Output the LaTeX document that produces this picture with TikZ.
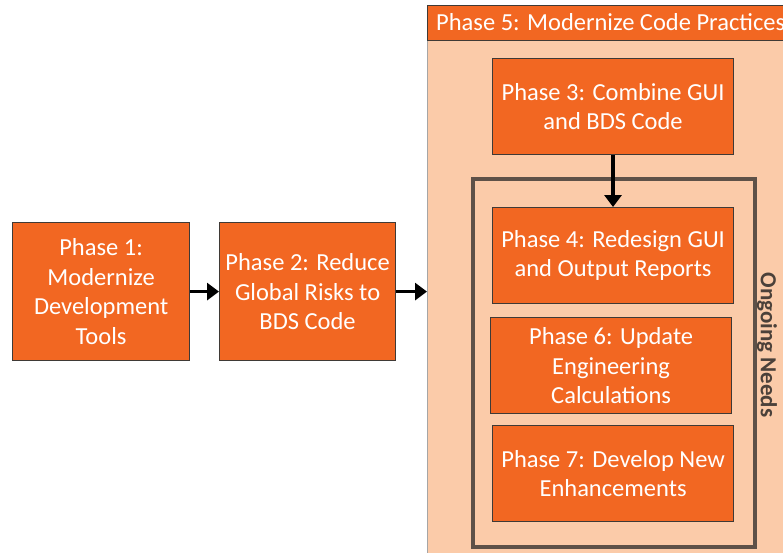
\documentclass[tikz,border=0pt]{standalone}
\usepackage{fontspec}
\setmainfont{Carlito}
\usetikzlibrary{arrows.meta}
\definecolor{orng}{HTML}{F26722}
\definecolor{peach}{HTML}{FBCBA9}
\definecolor{edge}{HTML}{3F3A36}
\definecolor{ongo}{HTML}{5E5148}
\tikzset{
  phasebox/.style={draw=edge, line width=1.2pt, fill=orng, text=white, align=center,
    font=\fontsize{24.5}{29.5}\selectfont, inner sep=0pt},
  arr/.style={-{Triangle[length=12pt,width=17pt]}, line width=3.5pt, black}
}
\begin{document}
\begin{tikzpicture}[x=1pt,y=-1pt]
\useasboundingbox (0,0) rectangle (783,552);
% Phase 5 container
\node[draw=gray!70, line width=0.8pt, fill=peach, minimum width=360pt, minimum height=550pt, anchor=north west, inner sep=0pt] (p5) at (427,5) {};
\node[draw=edge, line width=1.2pt, fill=orng, text=white, anchor=north west, minimum width=360pt, minimum height=35pt, inner sep=0pt] (p5t) at (427,5) {};
\node[text=white, font=\fontsize{24.5}{29.5}\selectfont, anchor=west, inner sep=0pt] (p5l) at (436,22.5) {Phase 5: Modernize Code Practices};
% Ongoing needs box
\node[draw=ongo, line width=4pt, minimum width=282pt, minimum height=368pt, anchor=north west, inner sep=0pt] (on) at (471,177) {};
\node[rotate=-90, text=ongo!80!black, font=\fontsize{23}{29}\selectfont\bfseries] (onl) at (767,345) {Ongoing Needs};
% Phases
\node[phasebox, minimum width=241pt, minimum height=96pt, anchor=north west] (p3) at (492,58) {Phase 3: Combine GUI\\and BDS Code};
\node[phasebox, minimum width=241pt, minimum height=96pt, anchor=north west] (p4) at (492,207) {Phase 4: Redesign GUI\\and Output Reports};
\node[phasebox, minimum width=241pt, minimum height=96pt, anchor=north west] (p6) at (490,317) {Phase 6: Update\\Engineering\\Calculations};
\node[phasebox, minimum width=241pt, minimum height=96pt, anchor=north west] (p7) at (492,425) {Phase 7: Develop New\\Enhancements};
\node[phasebox, minimum width=177pt, minimum height=138pt, anchor=north west] (p1) at (12,222) {Phase 1:\\Modernize\\Development\\Tools};
\node[phasebox, minimum width=176pt, minimum height=138pt, anchor=north west] (p2) at (219,222) {Phase 2: Reduce\\Global Risks to\\BDS Code};
% Arrows
\draw[arr] (p1.east) -- (p2.west);
\draw[arr] (p2.east) -- (p2.east -| p5.west);
\draw[arr] (p3.south -| 613,0) -- (p4.north -| 613,0);
\end{tikzpicture}
\end{document}
